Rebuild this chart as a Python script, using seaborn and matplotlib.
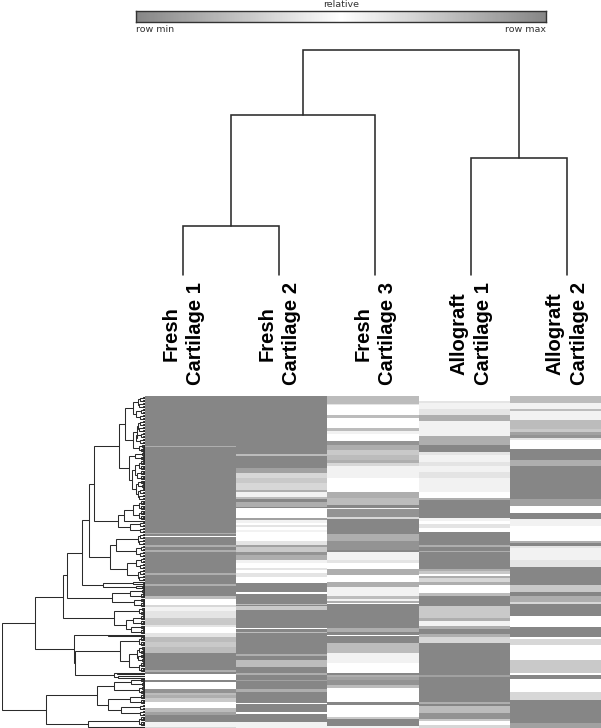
import numpy as np
import pandas as pd
import seaborn as sns
import matplotlib
matplotlib.use("Agg")
import matplotlib.pyplot as plt
from matplotlib.colors import LinearSegmentedColormap

sns.set_theme(style="white")
plt.rcParams['font.family'] = ['Liberation Sans', 'DejaVu Sans']

W, H = 601, 728
samples = ["Fresh\nCartilage 1", "Fresh\nCartilage 2", "Fresh\nCartilage 3",
           "Allograft\nCartilage 1", "Allograft\nCartilage 2"]

# Heatmap bands per sample: (last row of the band, lightness 0 = row extreme, 9 = mid/white)
fresh1 = [(50,0),(51,3),(137,0),(138,3),(140,0),(141,9),(149,0),(151,3),(154,0),(156,3),(177,0),(179,3),(188,0),(190,3),
          (200,0),(203,4),(209,9),(211,6),(215,8),(222,7),(229,5),(231,7),(237,9),(241,7),(246,4),(251,5),(257,4),(274,0),
          (276,3),(278,0),(284,9),(286,0),(293,9),(297,1),(299,4),(302,3),(306,5),(312,9),(316,4),(319,2),(326,0),(331,8),(332,6)]
fresh2 = [(58,0),(60,4),(72,0),(77,2),(82,6),(87,5),(94,6),(96,3),(101,8),(103,4),(106,0),(111,3),(112,0),(122,9),(124,2),
          (127,8),(129,9),(131,7),(134,9),(136,8),(145,9),(149,7),(151,2),(156,5),(159,1),(164,3),(167,8),(172,9),(174,7),
          (177,9),(181,7),(187,9),(196,0),(198,9),(208,0),(209,4),(210,0),(214,5),(232,0),(233,9),(236,0),(237,4),(258,0),
          (260,3),(264,0),(271,4),(277,0),(279,3),(284,0),(285,2),(293,0),(296,3),(307,0),(308,9),(316,0),(318,9),(326,0),(332,8)]
fresh3 = [(8,4),(9,7),(19,9),(22,4),(32,9),(35,4),(38,8),(45,9),(49,1),(54,3),(59,5),(64,4),(67,3),(70,6),(82,8),(96,9),
          (102,3),(109,4),(112,0),(113,8),(121,1),(123,6),(138,0),(145,3),(154,1),(156,0),(164,8),(167,7),(173,9),(179,3),
          (186,9),(191,3),(200,8),(203,4),(205,8),(207,3),(208,9),(232,0),(236,3),(239,0),(240,9),(247,0),(257,4),(267,8),
          (277,9),(279,0),(281,3),(284,2),(289,1),(292,4),(306,9),(309,0),(321,9),(323,5),(330,0),(332,8)]
allo1 = [(5,9),(7,7),(13,8),(19,7),(25,3),(40,8),(49,3),(56,0),(59,7),(66,8),(70,7),(76,8),(82,7),(96,8),(102,9),(104,3),
         (122,0),(125,8),(128,9),(132,7),(136,9),(149,0),(151,3),(155,0),(156,3),(173,0),(175,3),(178,5),(180,9),(182,3),
         (186,6),(189,3),(197,9),(200,4),(210,0),(222,5),(225,3),(230,8),(233,3),(238,0),(241,3),(247,6),(279,0),(281,2),
         (306,0),(308,3),(310,0),(317,4),(323,1),(325,5),(329,9),(332,6)]
allo2 = [(7,4),(13,8),(15,4),(24,8),(33,4),(36,5),(39,2),(42,1),(44,7),(53,9),(64,0),(70,3),(103,0),(110,2),(117,9),(123,0),
         (130,8),(145,9),(147,3),(150,0),(152,7),(164,8),(171,7),(189,0),(196,5),(200,0),(206,3),(208,6),(220,0),(231,9),
         (241,0),(243,9),(249,6),(264,9),(277,5),(279,9),(283,0),(296,9),(304,6),(327,0),(332,2)]
bands = [fresh1, fresh2, fresh3, allo1, allo2]

# Column tree: (distance, left, right); a number is a leaf position in the sample order
column_tree = (225, (160, (49, 0, 1), 2), (117, 3, 4))

# Row tree: (distance, upper, lower); a bare number is a leaf spanning that many rows
b2 = (1.5, 1, 1)
b2x = (2.5, 1, 1)
b3 = (2.2, 1.5, 1.5)
b4 = (3, b2, b2)
b4x = (4, b2x, b2)
b5 = (3.5, (2.0, 1.25, 1.25), (2.8, 1.25, 1.25))
b6 = (4.5, b3, b3)
b8 = (5.5, b4, b4x)
b8x = (7, b4x, b4)
b10 = (6, b5, b5)
b12 = (7, b6, (5.5, b3, b3))
b12x = (8.5, (4, b3, b3), b6)
b16 = (8, b8, b8x)
b20 = (10, b10, (7.5, b5, b5))
b24 = (11, b12, b12x)
row_tree = (142,
            (109,
             (81,
              (77,
               (63,
                (56,
                 (51,
                  (26,
                   (20, (12, b12, b12x), (12, (8, b12, b12x), b8)),
                   (16, (10, b4, b4x), (13, b20, (9, b8x, b12)))),
                  (27, (21, (12, b10, b10), 1), (15, b6, b6))),
                 (35, (29, b12, b12x), (18, b12x, b12))),
                (42, (12, b2, b2), (9, b2x, b2))),
               (33, (15, b4, b5), (11, b4x, b5))),
              (31, b8, (19, (12, b5, b5), (14, b4x, b5)))),
             (71,
              (37, 1, 1),
              (70,
               (25, b10, (16, b16, b10)),
               (31, (28, 1, 2), (27, 2, 1))))),
            (98,
             (48,
              (31, (14, b4x, b4), b8),
              (37, (15, b5, b5), (24, b6, b6))),
             (57, b10, (46, 1, 1))))

cmap = LinearSegmentedColormap.from_list("grey_white", ["#868686", "#ffffff"])
line_col = "#2b2b2b"


def px_axes(x0, y0, x1, y1):
    return fig.add_axes([x0 / W, 1 - y1 / H, (x1 - x0) / W, (y1 - y0) / H])


def draw_columns(ax, node):
    if not isinstance(node, tuple):
        return node, 0
    d, a, b = node
    xa, ha = draw_columns(ax, a)
    xb, hb = draw_columns(ax, b)
    ax.plot([xa, xa, xb, xb], [ha, d, d, hb], color=line_col, lw=1.15,
            solid_joinstyle="miter", clip_on=False)
    return (xa + xb) / 2, d


def draw_rows(ax, node, cursor):
    if not isinstance(node, tuple):
        y = cursor[0] + node / 2
        cursor[0] += node
        return y, 0
    d, a, b = node
    ya, da = draw_rows(ax, a, cursor)
    yb, db = draw_rows(ax, b, cursor)
    ax.plot([da, d, d, db], [ya, ya, yb, yb], color=line_col, lw=0.75, solid_joinstyle="miter")
    return (ya + yb) / 2, d


def total(node):
    return total(node[1]) + total(node[2]) if isinstance(node, tuple) else node


fig = plt.figure(figsize=(W / 100, H / 100), dpi=100, facecolor="white")

# Colour key
ax_key = px_axes(136, 11, 546, 22)
key = np.abs(np.linspace(-1, 1, 256))[None, :]
sns.heatmap(1 - key, ax=ax_key, cmap=cmap, vmin=0, vmax=1, cbar=False, xticklabels=False, yticklabels=False)
for s in ax_key.spines.values():
    s.set_visible(True)
    s.set_color("#333333")
    s.set_linewidth(1.0)
fig.text(341 / W, 1 - 4.5 / H, "relative", ha="center", va="center", fontsize=6.8, color="#333333", family="DejaVu Sans")
fig.text(136 / W, 1 - 30 / H, "row min", ha="left", va="center", fontsize=6.8, color="#333333", family="DejaVu Sans")
fig.text(546 / W, 1 - 30 / H, "row max", ha="right", va="center", fontsize=6.8, color="#333333", family="DejaVu Sans")

# Column dendrogram with sample labels
ax_top = px_axes(183, 50, 567, 275)
draw_columns(ax_top, column_tree)
ax_top.set_xlim(0, 4)
ax_top.set_ylim(0, 225)
ax_top.set_yticks([])
ax_top.set_xticks(range(5))
ax_top.set_xticklabels(samples, rotation=90, fontsize=14.5, fontweight="bold", color="black",
                       ha="center", va="top", multialignment="center", linespacing=1.35)
ax_top.tick_params(axis="x", length=0, pad=5)
ax_top.patch.set_alpha(0)
sns.despine(ax=ax_top, left=True, bottom=True)

# Heatmap
n_rows = H - 396
columns = []
for b in bands:
    ends = [e for e, _ in b]
    counts = np.diff([0] + ends)
    columns.append(np.repeat([v for _, v in b], counts))
frame = pd.DataFrame(np.array(columns).T, columns=samples)
ax_h = px_axes(145, 396, 601, 728)
sns.heatmap(frame, ax=ax_h, cmap=cmap, vmin=0, vmax=9, cbar=False, xticklabels=False, yticklabels=False)

# Row dendrogram
ax_r = px_axes(2, 396, 145, 728)
draw_rows(ax_r, row_tree, [0.0])
ax_r.set_xlim(142, 0)
ax_r.set_ylim(total(row_tree), 0)
ax_r.axis("off")

fig.savefig("out.png", dpi=100, facecolor="white")
